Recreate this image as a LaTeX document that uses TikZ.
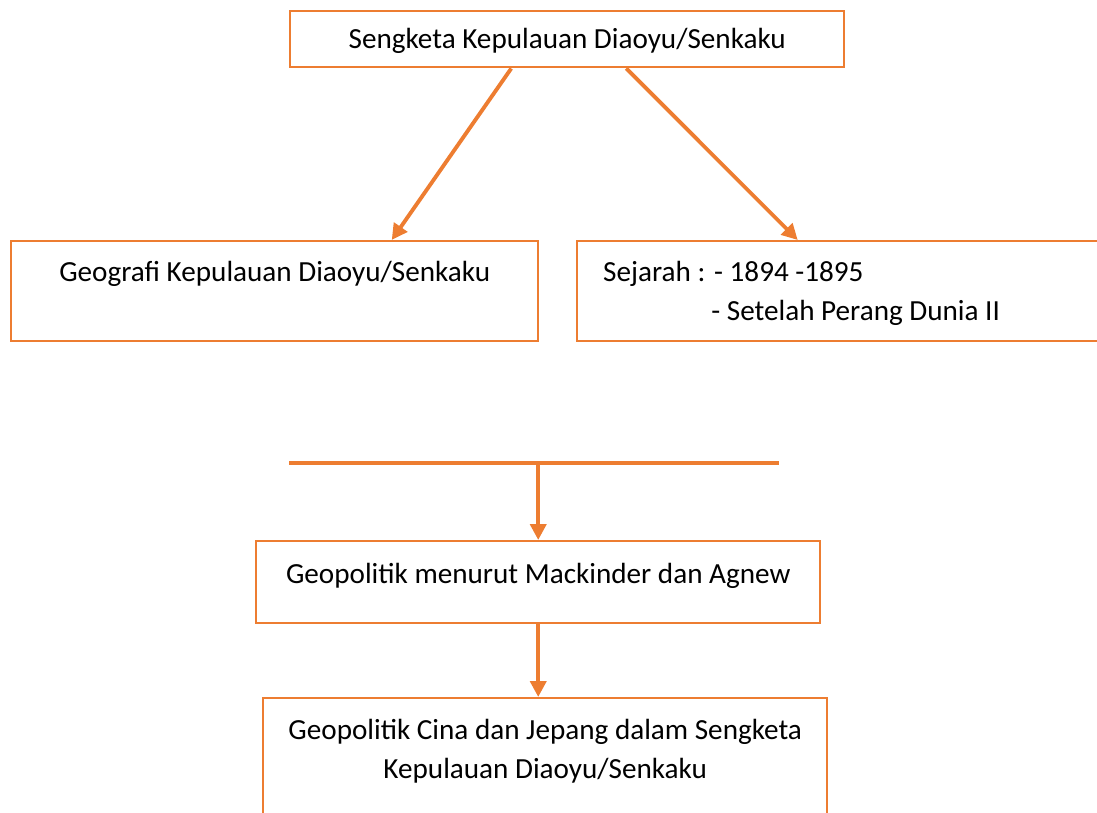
\documentclass[tikz,border=0pt]{standalone}
\usepackage{fontspec}
\setmainfont{Carlito}
\usepackage{tikz}
\usetikzlibrary{arrows.meta,positioning,calc}
\definecolor{DiaOrange}{HTML}{ED7D31}

\begin{document}
\begin{tikzpicture}[font=\fontsize{16.6}{22.2}\selectfont, >={Triangle[length=9pt,width=9pt]},
  box/.style={draw=DiaOrange, line width=1.4pt, anchor=north west, inner ysep=0pt, align=center},
  arr/.style={->, line width=2.2pt, DiaOrange}]
\useasboundingbox (0,0) rectangle (21.94,-16.26);
\clip (0,0) rectangle (21.94,-16.26);

\node[box, minimum width=11.08cm, text height=0.74cm, text depth=0.38cm] (dispute) at (5.78,-0.2) {Sengketa Kepulauan Diaoyu/Senkaku};

\node[box, minimum width=10.54cm, text height=0.8cm, text depth=1.2cm] (geography) at (0.2,-4.8) {Geografi Kepulauan Diaoyu/Senkaku};
\node[box, text width=9.56cm, inner xsep=0.52cm, align=flush left, text height=0.8cm, text depth=1.2cm] (history) at (11.52,-4.8) {Sejarah : - 1894 -1895\\\hphantom{Sejarah :}\hspace*{0.12cm}- Setelah Perang Dunia II};

\coordinate (barL) at (5.78,-9.26);
\coordinate (barR) at (15.58,-9.26);

\node[box, minimum width=11.28cm, text height=0.84cm, text depth=0.8cm] (mackinder) at (5.1,-10.8) {Geopolitik menurut Mackinder dan Agnew};
\node[box, minimum width=11.28cm, text height=1.6cm, text depth=1.0cm] (china) at (5.24,-13.94) {Geopolitik Cina dan Jepang dalam Sengketa\\Kepulauan Diaoyu/Senkaku};

\draw[arr] ([xshift=-1.12cm]dispute.south) -- ([xshift=2.34cm]geography.north);
\draw[arr] ([xshift=1.18cm]dispute.south) -- ([xshift=-0.89cm]history.north);
\draw[DiaOrange, line width=2.2pt] (barL) -- (barR);
\draw[arr] (mackinder.north |- barL) -- (mackinder.north);
\draw[arr] (mackinder.south) -- (mackinder.south |- china.north);
\end{tikzpicture}
\end{document}
